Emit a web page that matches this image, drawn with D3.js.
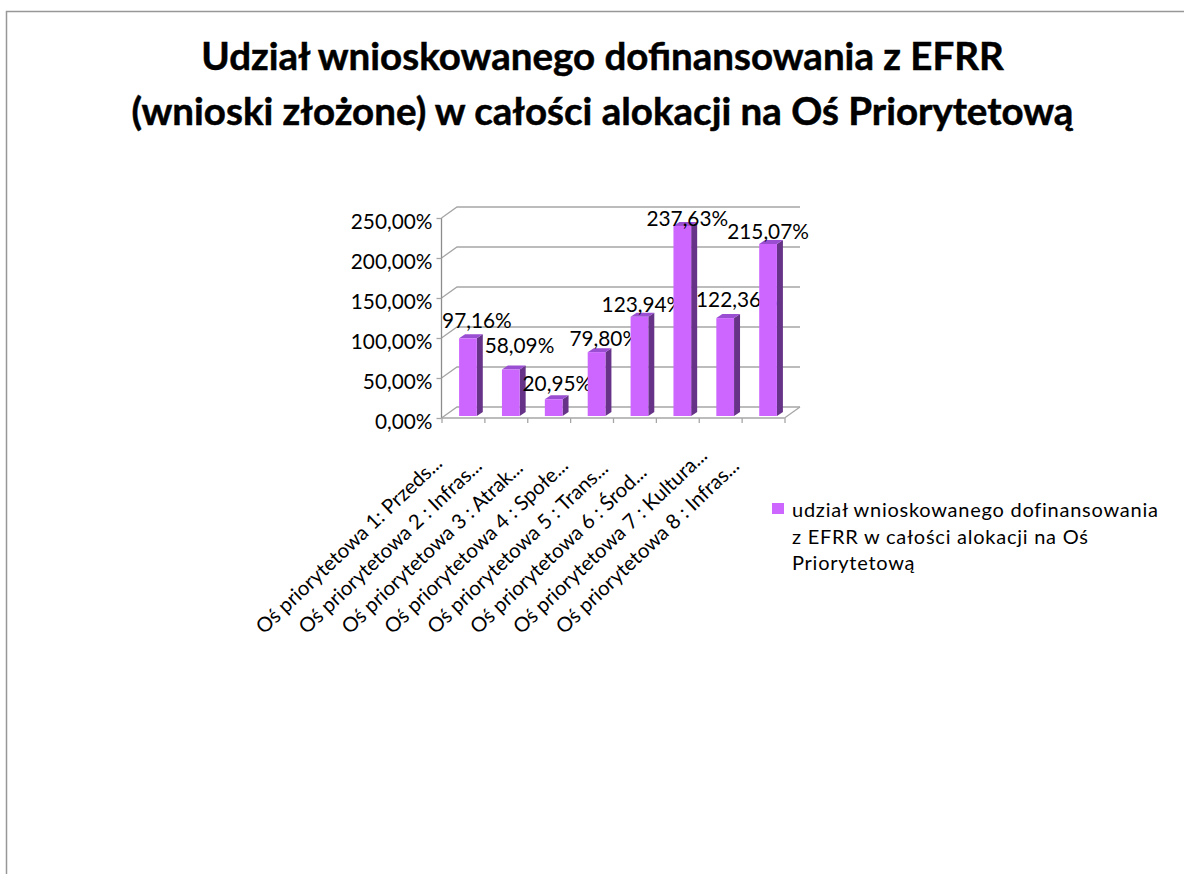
<!DOCTYPE html>
<html>
<head>
<meta charset="utf-8">
<script src="https://cdn.jsdelivr.net/npm/d3@7"></script>
<style>
html, body { margin: 0; padding: 0; background: #fff; }
svg { display: block; }
text { font-family: Lato, "Open Sans", sans-serif; fill: #000; }
</style>
</head>
<body>
<svg width="1184" height="874"></svg>
<script>
var titleLines = [
  "Udział wnioskowanego dofinansowania z EFRR",
  "(wnioski złożone) w całości alokacji na Oś Priorytetową"
];
var categories = [
  "Oś priorytetowa 1: Przeds...",
  "Oś priorytetowa 2 : Infras...",
  "Oś priorytetowa 3 : Atrak...",
  "Oś priorytetowa 4 : Społe...",
  "Oś priorytetowa 5 : Trans...",
  "Oś priorytetowa 6 : Środ...",
  "Oś priorytetowa 7 : Kultura...",
  "Oś priorytetowa 8 : Infras..."
];
var values = [0.9716, 0.5809, 0.2095, 0.7980, 1.2394, 2.3763, 1.2236, 2.1507];
var yTicks = [0, 0.5, 1, 1.5, 2, 2.5];
var legendLines = [
  "udział wnioskowanego dofinansowania",
  "z EFRR w całości alokacji na Oś",
  "Priorytetową"
];
// the data labels sit unevenly around the bars in the original
var labelLift = [10, 16.5, 8, 6, 4.6, 0, 11, 4.6];
var labelShift = [9, 8.7, 3.7, 7.7, 3, 5, 11.7, 0];

var svg = d3.select("svg");
var pl = d3.formatLocale({decimal: ",", thousands: " ", grouping: [3], currency: ["", " zł"]});
var pct = pl.format(".2%");

var x0 = 441.5, x1 = 784.5, y0 = 418, y1 = 218;
var wallDx = 15.5, wallDy = -11;
var barDx = 5, barDy = -2, sideDx = 6, sideDy = -4;

var x = d3.scaleBand()
    .domain(categories)
    .range([x0, x1])
    .paddingInner(0.587)
    .paddingOuter(0.2935);

var y = d3.scaleLinear()
    .domain([0, 2.5])
    .range([y0, y1]);

var tickX = d3.scaleLinear()
    .domain([0, categories.length])
    .range([x0, x1]);

// slide frame, only top and left are visible
svg.append("path")
    .attr("d", "M6.5,874V11.5H1184")
    .attr("fill", "none")
    .attr("stroke", "#979797")
    .attr("stroke-width", 1.5);

svg.append("g").selectAll("text")
    .data(titleLines)
  .enter().append("text")
    .attr("x", 602.5)
    .attr("y", function(d, i) { return 70 + i * 55; })
    .attr("text-anchor", "middle")
    .attr("font-size", 38.5)
    .attr("font-weight", 700)
    .attr("stroke", "#000")
    .attr("stroke-width", 0.5)
    .text(function(d) { return d; });

// back wall gridlines and the wall edge going to the axis
var grid = svg.append("g")
    .attr("fill", "none")
    .attr("stroke", "#a6a6a6")
    .attr("stroke-width", 1.3);

grid.selectAll("path")
    .data(yTicks)
  .enter().append("path")
    .attr("d", function(d) {
      return d3.line()([
        [x0, y(d)],
        [x0 + wallDx, y(d) + wallDy],
        [x1 + wallDx, y(d) + wallDy]
      ]);
    });

// right edge of the floor
grid.append("path")
    .attr("d", d3.line()([[x1, y(0)], [x1 + wallDx, y(0) + wallDy]]));

var yAxis = d3.axisLeft(y)
    .tickValues(yTicks)
    .tickSize(5)
    .tickPadding(4)
    .tickFormat(pct);

var xAxis = d3.axisBottom(tickX)
    .tickValues(d3.range(categories.length + 1))
    .tickSize(5)
    .tickFormat("");

var gy = svg.append("g")
    .attr("transform", "translate(" + x0 + ",0)")
    .call(yAxis);
gy.select(".domain").attr("d", "M0," + y1 + "V" + y0).attr("stroke", "#8c8c8c").attr("stroke-width", 1.3);
gy.selectAll("line").attr("stroke", "#a6a6a6").attr("stroke-width", 1.3);
gy.selectAll("text")
    .attr("font-family", "Lato")
    .attr("font-size", 20.8)
    .attr("y", 4)
    .attr("fill", "#000");

var gx = svg.append("g")
    .attr("transform", "translate(0," + y0 + ")")
    .call(xAxis);
gx.select(".domain").attr("d", "M" + x0 + ",0H" + x1).attr("stroke", "#a6a6a6").attr("stroke-width", 1.3);
gx.selectAll("line").attr("stroke", "#a6a6a6").attr("stroke-width", 1.3);

// bars and their labels go in order, so a later bar hides part of the label before it
var bars = svg.append("g");
categories.forEach(function(c, i) {
  var l = x(c) + barDx,
      r = l + x.bandwidth(),
      t = y(values[i]) + barDy,
      b = y(0) + barDy;

  bars.append("polygon")
      .attr("fill", "#663388")
      .attr("points", [[r, t], [r + sideDx, t + sideDy], [r + sideDx, b + sideDy], [r, b]].join(" "));
  bars.append("polygon")
      .attr("fill", "#9a4ed1")
      .attr("points", [[l, t], [l + sideDx, t + sideDy], [r + sideDx, t + sideDy], [r, t]].join(" "));
  bars.append("rect")
      .attr("x", l)
      .attr("y", t)
      .attr("width", r - l)
      .attr("height", b - t)
      .attr("fill", "#cc66ff");
  bars.append("text")
      .attr("x", (l + r) / 2 + labelShift[i])
      .attr("y", t - labelLift[i])
      .attr("text-anchor", "middle")
      .attr("font-size", 20.8)
      .text(pct(values[i]));
});

svg.append("g").selectAll("text")
    .data(categories)
  .enter().append("text")
    .attr("transform", function(d) {
      return "translate(" + (x(d) + x.bandwidth() / 2 - 199) + ",635) rotate(-43.5)";
    })
    .attr("font-size", 20.4)
    .text(function(d) { return d; });

// legend
svg.append("rect")
    .attr("x", 772)
    .attr("y", 503)
    .attr("width", 12)
    .attr("height", 11)
    .attr("fill", "#cc66ff");

svg.append("g").selectAll("text")
    .data(legendLines)
  .enter().append("text")
    .attr("x", 792)
    .attr("y", function(d, i) { return 517 + i * 26.5; })
    .attr("font-size", 20)
    .attr("letter-spacing", 0.75)
    .text(function(d) { return d; });
</script>
</body>
</html>
